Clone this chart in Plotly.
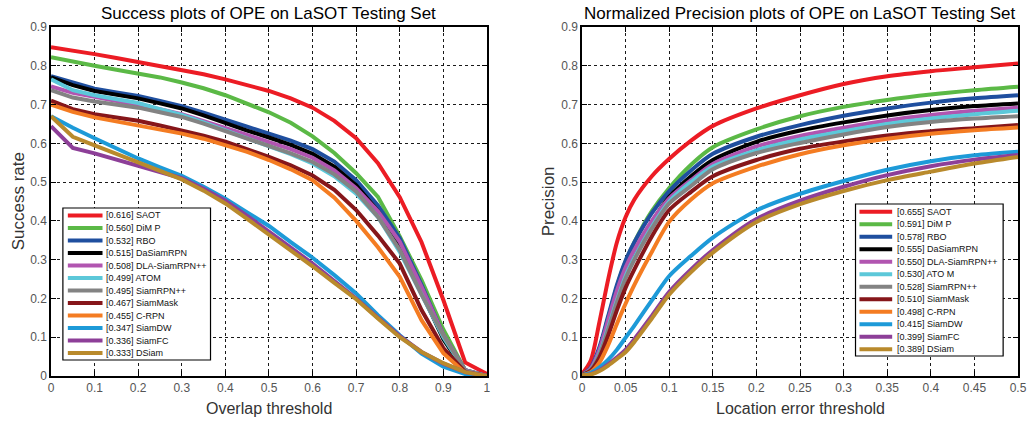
import plotly.graph_objects as go

# ---------------- data ----------------
thr_overlap = [0.0, 0.05, 0.1, 0.15, 0.2, 0.25, 0.3, 0.35, 0.4, 0.45, 0.5,
               0.55, 0.6, 0.65, 0.7, 0.75, 0.8, 0.85, 0.9, 0.95, 1.0]
thr_location = [0.0, 0.01, 0.02, 0.03, 0.04, 0.05, 0.06, 0.08, 0.1, 0.125,
                0.15, 0.2, 0.25, 0.3, 0.35, 0.4, 0.45, 0.5]

trackers = ["SAOT", "DiMP", "RBO", "DaSiamRPN", "DLA-SiamRPN++", "ATOM",
            "SiamRPN++", "SiamMask", "C-RPN", "SiamDW", "SiamFC", "DSiam"]
names_success = ["SAOT", "DiM P", "RBO", "DaSiamRPN", "DLA-SiamRPN++", "ATOM",
                 "SiamRPN++", "SiamMask", "C-RPN", "SiamDW", "SiamFC", "DSiam"]
names_precision = ["SAOT", "DiM P", "RBO", "DaSiamRPN", "DLA-SiamRPN++", "ATO M",
                   "SiamRPN++", "SiamMask", "C-RPN", "SiamDW", "SiamFC", "DSiam"]
scores_success = ["0.616", "0.560", "0.532", "0.515", "0.508", "0.499",
                  "0.495", "0.467", "0.455", "0.347", "0.336", "0.333"]
scores_precision = ["0.655", "0.591", "0.578", "0.555", "0.550", "0.530",
                    "0.528", "0.510", "0.498", "0.415", "0.399", "0.389"]
colors = ["#ec1c24", "#5bb946", "#1f4f9f", "#000000", "#b155b0", "#5cc8d9",
          "#838383", "#86161a", "#f47c22", "#1d9ad8", "#8d3f98", "#b98a2c"]

# success rate vs overlap threshold
succ_saot = [0.848, 0.84, 0.83, 0.82, 0.81, 0.80, 0.79, 0.778, 0.765, 0.75, 0.735,
             0.716, 0.692, 0.658, 0.613, 0.549, 0.461, 0.345, 0.196, 0.035, 0.005]
succ_dimp = [0.822, 0.81, 0.80, 0.79, 0.78, 0.77, 0.757, 0.742, 0.724, 0.703, 0.68,
             0.653, 0.618, 0.575, 0.523, 0.462, 0.36, 0.247, 0.12, 0.015, 0.0]
succ_rbo = [0.773, 0.756, 0.741, 0.731, 0.722, 0.709, 0.696, 0.679, 0.66, 0.643, 0.625,
            0.607, 0.585, 0.553, 0.505, 0.44, 0.355, 0.235, 0.105, 0.015, 0.0]
succ_dasiam = [0.77, 0.75, 0.735, 0.725, 0.716, 0.703, 0.69, 0.672, 0.652, 0.633, 0.615,
               0.596, 0.573, 0.54, 0.492, 0.425, 0.335, 0.215, 0.095, 0.012, 0.0]
succ_dla = [0.747, 0.73, 0.72, 0.71, 0.70, 0.688, 0.675, 0.658, 0.64, 0.622, 0.603,
            0.585, 0.563, 0.53, 0.484, 0.425, 0.346, 0.23, 0.106, 0.015, 0.0]
succ_atom = [0.765, 0.737, 0.724, 0.713, 0.704, 0.688, 0.673, 0.654, 0.634, 0.612, 0.592,
             0.572, 0.548, 0.515, 0.47, 0.41, 0.32, 0.21, 0.1, 0.013, 0.0]
succ_rpnpp = [0.737, 0.718, 0.708, 0.70, 0.692, 0.68, 0.668, 0.651, 0.632, 0.612, 0.593,
              0.574, 0.552, 0.52, 0.476, 0.41, 0.325, 0.21, 0.105, 0.014, 0.0]
succ_mask = [0.71, 0.688, 0.675, 0.667, 0.658, 0.646, 0.634, 0.62, 0.604, 0.585, 0.565,
             0.543, 0.517, 0.48, 0.428, 0.362, 0.29, 0.17, 0.072, 0.01, 0.0]
succ_crpn = [0.70, 0.681, 0.667, 0.657, 0.647, 0.636, 0.625, 0.612, 0.596, 0.578, 0.557,
             0.533, 0.505, 0.46, 0.40, 0.332, 0.256, 0.144, 0.059, 0.008, 0.0]
succ_siamdw = [0.67, 0.64, 0.613, 0.586, 0.561, 0.538, 0.516, 0.488, 0.457, 0.422, 0.387,
               0.345, 0.305, 0.26, 0.213, 0.157, 0.105, 0.058, 0.024, 0.005, 0.0]
succ_siamfc = [0.644, 0.588, 0.574, 0.558, 0.544, 0.527, 0.51, 0.483, 0.452, 0.413, 0.372,
               0.33, 0.29, 0.245, 0.2, 0.15, 0.103, 0.062, 0.032, 0.01, 0.0]
succ_dsiam = [0.67, 0.617, 0.595, 0.573, 0.552, 0.53, 0.507, 0.478, 0.445, 0.405, 0.365,
              0.325, 0.283, 0.24, 0.198, 0.148, 0.1, 0.062, 0.033, 0.01, 0.0]

# normalized precision vs location error threshold
prec_saot = [0.005, 0.04, 0.14, 0.25, 0.345, 0.41, 0.455, 0.515, 0.56, 0.607,
             0.645, 0.69, 0.724, 0.753, 0.773, 0.786, 0.796, 0.806]
prec_dimp = [0.003, 0.02, 0.07, 0.15, 0.23, 0.295, 0.345, 0.425, 0.485, 0.545,
             0.59, 0.636, 0.67, 0.694, 0.712, 0.726, 0.737, 0.746]
prec_rbo = [0.003, 0.022, 0.075, 0.155, 0.235, 0.298, 0.345, 0.42, 0.477, 0.53,
            0.573, 0.617, 0.647, 0.671, 0.69, 0.705, 0.716, 0.724]
prec_dasiam = [0.003, 0.018, 0.06, 0.13, 0.2, 0.262, 0.31, 0.395, 0.462, 0.515,
               0.557, 0.604, 0.633, 0.654, 0.672, 0.686, 0.696, 0.703]
prec_dla = [0.003, 0.02, 0.068, 0.145, 0.22, 0.28, 0.325, 0.4, 0.458, 0.505,
            0.547, 0.592, 0.619, 0.64, 0.659, 0.673, 0.684, 0.692]
prec_atom = [0.003, 0.016, 0.058, 0.125, 0.195, 0.258, 0.305, 0.385, 0.45, 0.5,
             0.54, 0.582, 0.61, 0.631, 0.65, 0.664, 0.675, 0.684]
prec_rpnpp = [0.003, 0.016, 0.055, 0.12, 0.19, 0.252, 0.3, 0.38, 0.445, 0.49,
              0.533, 0.575, 0.601, 0.623, 0.642, 0.655, 0.664, 0.67]
prec_mask = [0.003, 0.014, 0.048, 0.105, 0.17, 0.228, 0.275, 0.36, 0.428, 0.475,
             0.515, 0.557, 0.586, 0.605, 0.62, 0.631, 0.639, 0.647]
prec_crpn = [0.002, 0.01, 0.035, 0.08, 0.135, 0.187, 0.235, 0.32, 0.398, 0.455,
             0.497, 0.54, 0.572, 0.595, 0.612, 0.625, 0.634, 0.641]
prec_siamdw = [0.002, 0.008, 0.022, 0.042, 0.068, 0.099, 0.13, 0.195, 0.258, 0.31,
               0.357, 0.427, 0.47, 0.503, 0.532, 0.554, 0.569, 0.578]
prec_siamfc = [0.002, 0.005, 0.015, 0.03, 0.048, 0.068, 0.095, 0.155, 0.217, 0.275,
               0.325, 0.405, 0.452, 0.488, 0.518, 0.541, 0.558, 0.57]
prec_dsiam = [0.002, 0.004, 0.013, 0.027, 0.044, 0.062, 0.088, 0.148, 0.21, 0.268,
              0.318, 0.397, 0.443, 0.477, 0.505, 0.527, 0.548, 0.565]

success_series = [succ_saot, succ_dimp, succ_rbo, succ_dasiam, succ_dla, succ_atom,
                  succ_rpnpp, succ_mask, succ_crpn, succ_siamdw, succ_siamfc, succ_dsiam]
precision_series = [prec_saot, prec_dimp, prec_rbo, prec_dasiam, prec_dla, prec_atom,
                    prec_rpnpp, prec_mask, prec_crpn, prec_siamdw, prec_siamfc, prec_dsiam]

y_ticks = [0, 0.1, 0.2, 0.3, 0.4, 0.5, 0.6, 0.7, 0.8, 0.9]
y_ticktext = ["0", "0.1", "0.2", "0.3", "0.4", "0.5", "0.6", "0.7", "0.8", "0.9"]
x1_ticks = [0, 0.1, 0.2, 0.3, 0.4, 0.5, 0.6, 0.7, 0.8, 0.9, 1]
x1_ticktext = ["0", "0.1", "0.2", "0.3", "0.4", "0.5", "0.6", "0.7", "0.8", "0.9", "1"]
x2_ticks = [0, 0.05, 0.1, 0.15, 0.2, 0.25, 0.3, 0.35, 0.4, 0.45, 0.5]
x2_ticktext = ["0", "0.05", "0.1", "0.15", "0.2", "0.25", "0.3", "0.35", "0.4", "0.45", "0.5"]

# ---------------- layout geometry ----------------
W, H = 1035, 424
ML, MR, MT, MB = 51, 8, 27, 48
PW = W - ML - MR
PH = H - MT - MB


def px(x):
    return (x - ML) / PW


def py(y):
    return (H - MB - y) / PH


fig = go.Figure()

for name, ys, c in zip(trackers, success_series, colors):
    fig.add_trace(go.Scatter(x=thr_overlap, y=ys, mode="lines", name=name,
                             line=dict(color=c, width=4), showlegend=False,
                             xaxis="x", yaxis="y"))
for name, ys, c in zip(trackers, precision_series, colors):
    fig.add_trace(go.Scatter(x=thr_location, y=ys, mode="lines", name=name,
                             line=dict(color=c, width=4, shape="spline", smoothing=0.8),
                             showlegend=False, xaxis="x2", yaxis="y2"))

axis_common = dict(showgrid=True, gridcolor="#1a1a1a", griddash="dot", gridwidth=1,
                   showline=True, linecolor="black", linewidth=1.5, mirror="ticks",
                   ticks="inside", ticklen=5, tickcolor="black", zeroline=False,
                   tickfont=dict(family="Arial", size=12, color="#555555"))

fig.update_layout(
    width=W, height=H, autosize=False,
    margin=dict(l=ML, r=MR, t=MT, b=MB),
    paper_bgcolor="white", plot_bgcolor="white",
    font=dict(family="Arial"),
    xaxis=dict(domain=[0, px(491)], range=[0, 1], tickvals=x1_ticks,
               ticktext=x1_ticktext, anchor="y", **axis_common),
    yaxis=dict(domain=[0, 1], range=[0, 0.9], tickvals=y_ticks,
               ticktext=y_ticktext, anchor="x", **axis_common),
    xaxis2=dict(domain=[px(587), 1], range=[0, 0.5], tickvals=x2_ticks,
                ticktext=x2_ticktext, anchor="y2", **axis_common),
    yaxis2=dict(domain=[0, 1], range=[0, 0.9], tickvals=y_ticks,
                ticktext=y_ticktext, anchor="x2", **axis_common),
)

shapes = []
annotations = []

# titles and axis titles
annotations.append(dict(text="Success plots of OPE on LaSOT Testing Set", xref="paper", yref="paper",
                        x=px(271), y=py(13), showarrow=False, xanchor="center", yanchor="middle",
                        font=dict(family="Arial", size=17, color="black")))
annotations.append(dict(text="Normalized Precision plots of OPE on LaSOT Testing Set", xref="paper",
                        yref="paper", x=px(806), y=py(13), showarrow=False, xanchor="center",
                        yanchor="middle", font=dict(family="Arial", size=17, color="black")))
annotations.append(dict(text="Overlap threshold", xref="paper", yref="paper", x=px(271), y=py(408),
                        showarrow=False, xanchor="center", yanchor="middle",
                        font=dict(family="Arial", size=16, color="#333333")))
annotations.append(dict(text="Location error threshold", xref="paper", yref="paper", x=px(807),
                        y=py(408), showarrow=False, xanchor="center", yanchor="middle",
                        font=dict(family="Arial", size=16, color="#333333")))
annotations.append(dict(text="Success rate", xref="paper", yref="paper", x=px(18), y=py(201),
                        showarrow=False, xanchor="center", yanchor="middle", textangle=-90,
                        font=dict(family="Arial", size=17, color="#333333")))
annotations.append(dict(text="Precision", xref="paper", yref="paper", x=px(553), y=py(201),
                        showarrow=False, xanchor="center", yanchor="middle", textangle=-90,
                        font=dict(family="Arial", size=17, color="#333333")))


def add_legend(box, first_y, line_x0, line_x1, text_x, names, scores):
    bx0, by0, bx1, by1 = box
    shapes.append(dict(type="rect", xref="paper", yref="paper", x0=px(bx0), x1=px(bx1),
                       y0=py(by1), y1=py(by0), line=dict(color="black", width=1.2),
                       fillcolor="white", layer="above"))
    for i, (n, s, c) in enumerate(zip(names, scores, colors)):
        yy = first_y + 12.5 * i
        shapes.append(dict(type="line", xref="paper", yref="paper", x0=px(line_x0), x1=px(line_x1),
                           y0=py(yy), y1=py(yy), line=dict(color=c, width=4), layer="above"))
        annotations.append(dict(text="[" + s + "] " + n, xref="paper", yref="paper",
                                x=px(text_x), y=py(yy), showarrow=False, xanchor="left",
                                yanchor="middle", font=dict(family="Arial", size=9, color="#111111")))


add_legend((63, 208, 212, 360), 215.5, 68, 103, 104, names_success, scores_success)
add_legend((863, 204, 1012, 356), 211.7, 867, 900, 903, names_precision, scores_precision)

fig.update_layout(shapes=shapes, annotations=annotations)

fig.write_html("out.html")
